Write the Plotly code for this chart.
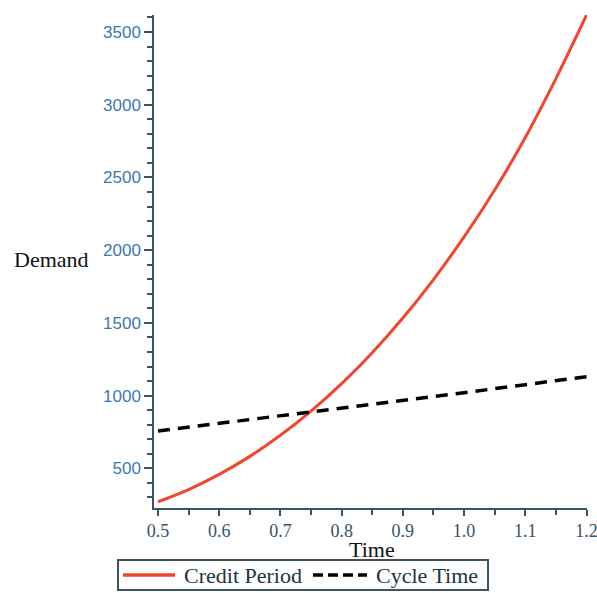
import plotly.graph_objects as go

# Demand versus time for the two policies
time_credit = [0.50, 0.55, 0.60, 0.65, 0.70, 0.75, 0.80, 0.85, 0.90, 0.95,
               1.00, 1.05, 1.10, 1.15, 1.20]
credit_period = [270, 354, 458, 582, 727, 893, 1082, 1295, 1533, 1798,
                 2091, 2414, 2775, 3180, 3617]

time_cycle = [0.50, 0.60, 0.70, 0.75, 0.80, 0.90, 1.00, 1.10, 1.20]
cycle_time = [756, 808, 861, 887, 912, 965, 1020, 1075, 1130]

y_ticks = [500, 1000, 1500, 2000, 2500, 3000, 3500]
x_ticks = [0.5, 0.6, 0.7, 0.8, 0.9, 1.0, 1.1, 1.2]
x_tick_text = ["0.5", "0.6", "0.7", "0.8", "0.9", "1.0", "1.1", "1.2"]

series_names = ["Credit Period", "Cycle Time"]
series_colors = ["#f0462c", "#000000"]

AXIS = "#3c5560"
SERIF = "Liberation Serif"

fig = go.Figure()
fig.add_trace(go.Scatter(
    x=time_credit, y=credit_period, mode="lines", name=series_names[0],
    line=dict(color=series_colors[0], width=3, shape="spline", smoothing=1.0),
))
fig.add_trace(go.Scatter(
    x=time_cycle, y=cycle_time, mode="lines", name=series_names[1],
    line=dict(color=series_colors[1], width=3.5, dash="12px,8px"),
))

# Boxed legend strip underneath the axis title (paper coordinates)
legend_y = -0.136
shapes = [
    dict(type="rect", xref="paper", yref="paper", x0=-0.0831, x1=0.7714,
         y0=-0.1055, y1=-0.1663, line=dict(color=AXIS, width=2), fillcolor="white"),
    dict(type="line", xref="paper", yref="paper", x0=-0.0716, x1=0.0485,
         y0=legend_y, y1=legend_y, line=dict(color=series_colors[0], width=3.5)),
    dict(type="line", xref="paper", yref="paper", x0=0.3672, x1=0.4919,
         y0=legend_y, y1=legend_y, line=dict(color=series_colors[1], width=3.5, dash="10px,5px")),
]

annotations = [
    dict(text="Demand", xref="paper", yref="paper", x=-0.2356, y=0.505,
         xanchor="center", yanchor="middle", showarrow=False,
         font=dict(family=SERIF, size=22, color="#111111")),
    dict(text="Time", xref="paper", yref="paper", x=0.503, y=-0.085,
         xanchor="center", yanchor="middle", showarrow=False,
         font=dict(family=SERIF, size=22, color="#111111")),
    dict(text=series_names[0], xref="paper", yref="paper", x=0.065, y=legend_y,
         xanchor="left", yanchor="middle", showarrow=False,
         font=dict(family=SERIF, size=22, color="#1e3340")),
    dict(text=series_names[1], xref="paper", yref="paper", x=0.508, y=legend_y,
         xanchor="left", yanchor="middle", showarrow=False,
         font=dict(family=SERIF, size=22, color="#1e3340")),
]

fig.update_layout(
    width=597, height=593,
    margin=dict(l=154, r=10, t=15, b=85, autoexpand=False),
    paper_bgcolor="white", plot_bgcolor="white",
    showlegend=False,
    shapes=shapes,
    annotations=annotations,
    xaxis=dict(
        range=[0.4935, 1.2008], tickvals=x_ticks, ticktext=x_tick_text,
        ticklabeloverflow="allow",
        showgrid=False, zeroline=False, showline=True, linecolor=AXIS, linewidth=1.5,
        ticks="outside", ticklen=6, tickwidth=1.5, tickcolor=AXIS,
        tickfont=dict(family=SERIF, size=18, color="#35526a"),
        minor=dict(dtick=0.05, ticks="outside", ticklen=5, tickwidth=1.5, tickcolor=AXIS),
    ),
    yaxis=dict(
        range=[227, 3617], tickvals=y_ticks,
        showgrid=False, zeroline=False, showline=True, linecolor=AXIS, linewidth=1.5,
        ticks="outside", ticklen=8, tickwidth=1.5, tickcolor=AXIS,
        tickfont=dict(family="Liberation Sans", size=17, color="#3a78b0"),
        minor=dict(dtick=100, ticks="outside", ticklen=5, tickwidth=1.5, tickcolor=AXIS),
    ),
)

fig.write_html("out.html")
